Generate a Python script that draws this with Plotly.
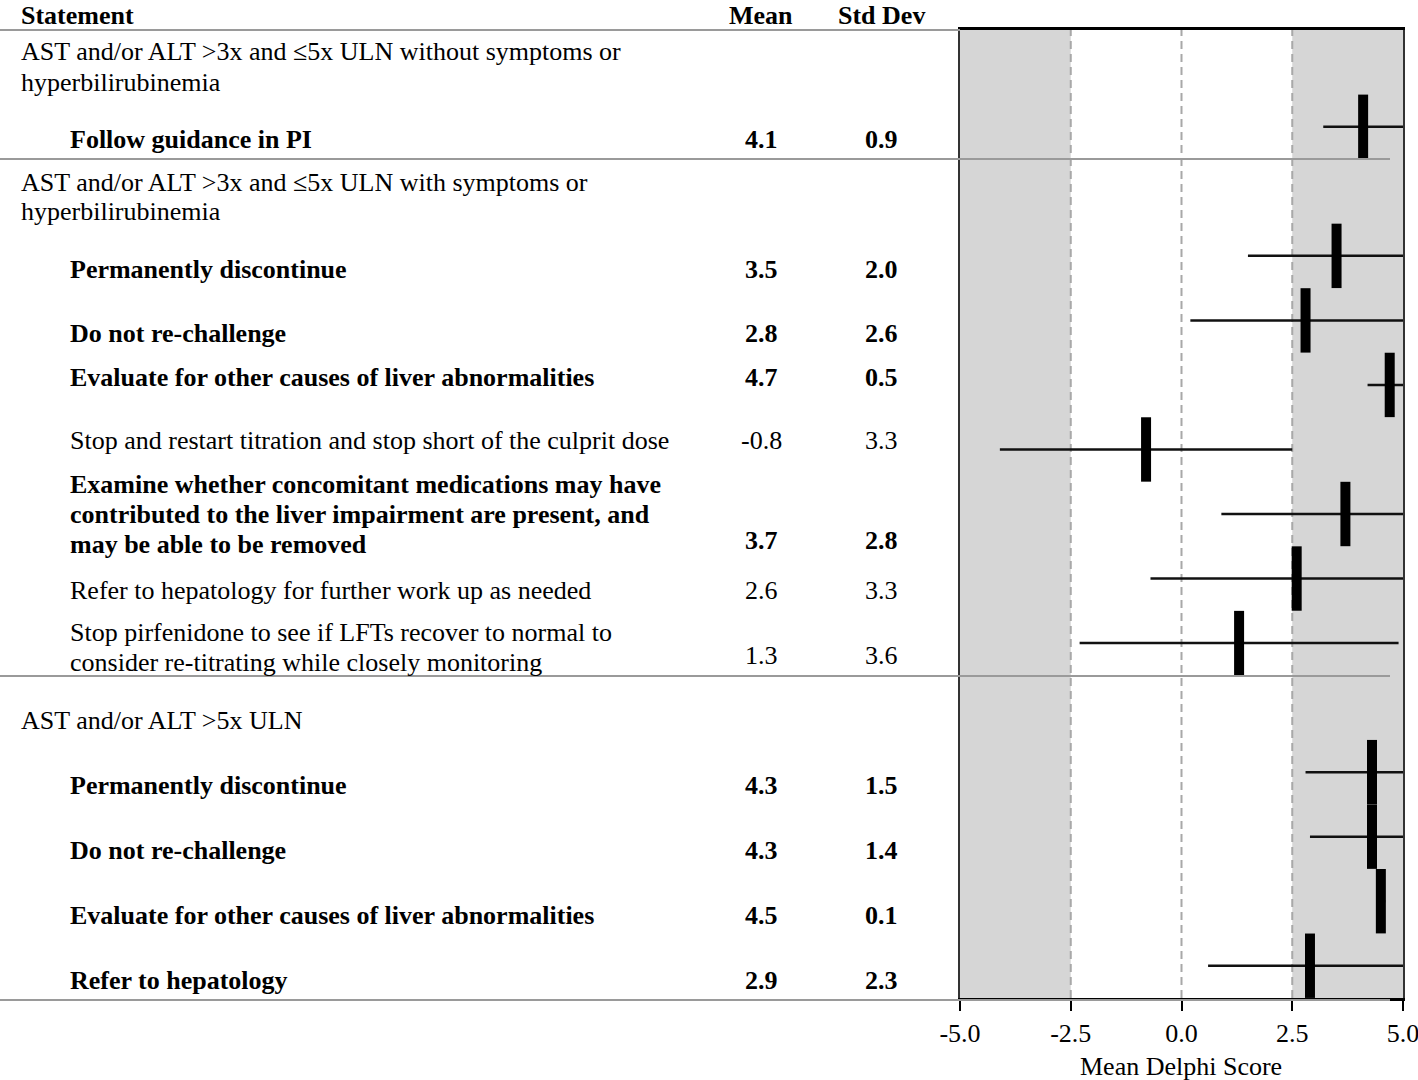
import plotly.graph_objects as go

# ---------------- data ----------------
group_headers = [
    ["AST and/or ALT >3x and \u22645x ULN without symptoms or", "hyperbilirubinemia"],
    ["AST and/or ALT >3x and \u22645x ULN with symptoms or", "hyperbilirubinemia"],
    ["AST and/or ALT >5x ULN"],
]
statements = [
    ["Follow guidance in PI"],
    ["Permanently discontinue"],
    ["Do not re-challenge"],
    ["Evaluate for other causes of liver abnormalities"],
    ["Stop and restart titration and stop short of the culprit dose"],
    ["Examine whether concomitant medications may have",
     "contributed to the liver impairment are present, and",
     "may be able to be removed"],
    ["Refer to hepatology for further work up as needed"],
    ["Stop pirfenidone to see if LFTs recover to normal to",
     "consider re-titrating while closely monitoring"],
    ["Permanently discontinue"],
    ["Do not re-challenge"],
    ["Evaluate for other causes of liver abnormalities"],
    ["Refer to hepatology"],
]
means = [4.1, 3.5, 2.8, 4.7, -0.8, 3.7, 2.6, 1.3, 4.3, 4.3, 4.5, 2.9]
sds = [0.9, 2.0, 2.6, 0.5, 3.3, 2.8, 3.3, 3.6, 1.5, 1.4, 0.1, 2.3]
is_bold = [True, True, True, True, False, True, False, False, True, True, True, True]
row_slot = [0, 2, 3, 4, 5, 6, 7, 8, 10, 11, 12, 13]
x_ticks = [-5.0, -2.5, 0.0, 2.5, 5.0]

# ---------------- layout constants (reference pixels) ----------------
W, H = 1418, 1080
FONT = "Liberation Serif, Times New Roman, serif"
FS = 26
PLOT_L, PLOT_R, PLOT_T, PLOT_B = 960, 1403, 30, 998

header_y_px = [(52, 82), (182, 212), (720,)]
stmt_y_px = [139, 269, 334, 377, 441, 484, 590, 632, 785, 850, 915, 980]
value_y_px = [139, 269, 334, 377, 441, 540, 590, 655, 785, 850, 915, 980]
sep_y_px = [30, 159, 676, 1000]
LINE_H = 30


def px(x):   # reference pixel -> plot-area paper x
    return (x - PLOT_L) / (PLOT_R - PLOT_L)


def py(y):   # reference pixel -> plot-area paper y
    return (PLOT_B - y) / (PLOT_B - PLOT_T)


def b(t, bold):
    return f"<b>{t}</b>" if bold else t


fig = go.Figure()

# error lines (mean +/- sd)
lx, ly = [], []
for m, s, r in zip(means, sds, row_slot):
    lx += [max(m - s, -5), min(m + s, 5), None]
    ly += [r, r, None]
fig.add_trace(go.Scatter(x=lx, y=ly, mode="lines",
                         line=dict(color="#111111", width=2.5),
                         hoverinfo="skip", showlegend=False))
# mean markers
fig.add_trace(go.Scatter(x=means, y=row_slot, mode="markers",
                         marker=dict(symbol="line-ns", size=46,
                                     line=dict(color="black", width=10)),
                         showlegend=False))

shapes = []
for x0, x1 in [(-5, -2.5), (2.5, 5)]:
    shapes.append(dict(type="rect", xref="x", yref="y domain", x0=x0, x1=x1, y0=0, y1=1,
                       fillcolor="#d6d6d6", line=dict(width=0), layer="below"))
for xv in [-2.5, 0, 2.5]:
    shapes.append(dict(type="line", xref="x", yref="y domain", x0=xv, x1=xv, y0=0, y1=1,
                       line=dict(color="#a8a8a8", width=2, dash="8px,5px"), layer="below"))
for yv in sep_y_px:
    shapes.append(dict(type="line", xref="paper", yref="paper",
                       x0=px(0), x1=px(1390 if yv != 30 else 960),
                       y0=py(yv), y1=py(yv), line=dict(color="#9a9a9a", width=2)))

ann = []


def add_text(t, x, y, xanchor="left"):
    ann.append(dict(text=t, x=px(x), y=py(y), xref="paper", yref="paper",
                    xanchor=xanchor, yanchor="middle", showarrow=False,
                    font=dict(family=FONT, size=FS, color="black")))


add_text("<b>Statement</b>", 19, 16)
add_text("<b>Mean</b>", 761, 15, "center")
add_text("<b>Std Dev</b>", 881, 15, "center")

for lines, ys in zip(group_headers, header_y_px):
    for t, yy in zip(lines, ys):
        add_text(t, 19, yy)

for i, lines in enumerate(statements):
    for k, t in enumerate(lines):
        add_text(b(t, is_bold[i]), 68, stmt_y_px[i] + k * LINE_H)
    add_text(b(f"{means[i]:.1f}", is_bold[i]), 761, value_y_px[i], "center")
    add_text(b(f"{sds[i]:.1f}", is_bold[i]), 881, value_y_px[i], "center")

add_text("Mean Delphi Score", 1181, 1066, "center")

fig.update_layout(
    width=W, height=H,
    margin=dict(l=PLOT_L, r=W - PLOT_R, t=PLOT_T, b=H - PLOT_B,
                pad=0, autoexpand=False),
    paper_bgcolor="white", plot_bgcolor="white",
    shapes=shapes, annotations=ann,
    font=dict(family=FONT, size=FS, color="black"),
    xaxis=dict(range=[-5, 5], tickvals=x_ticks,
               ticktext=[f"{v:.1f}" for v in x_ticks], automargin=False,
               ticklabeloverflow="allow",
               showgrid=False, zeroline=False, showline=True, mirror=True,
               linecolor="black", linewidth=3, ticks="outside", ticklen=10,
               tickwidth=2, tickcolor="black",
               tickfont=dict(family=FONT, size=FS, color="black")),
    yaxis=dict(range=[13.5, -1.5], automargin=False,
               showgrid=False, zeroline=False, showticklabels=False,
               showline=True, mirror=True, linecolor="#333333", linewidth=2),
)

fig.write_html("out.html", config={"displayModeBar": False},
               post_script="document.body.style.margin='0';")
